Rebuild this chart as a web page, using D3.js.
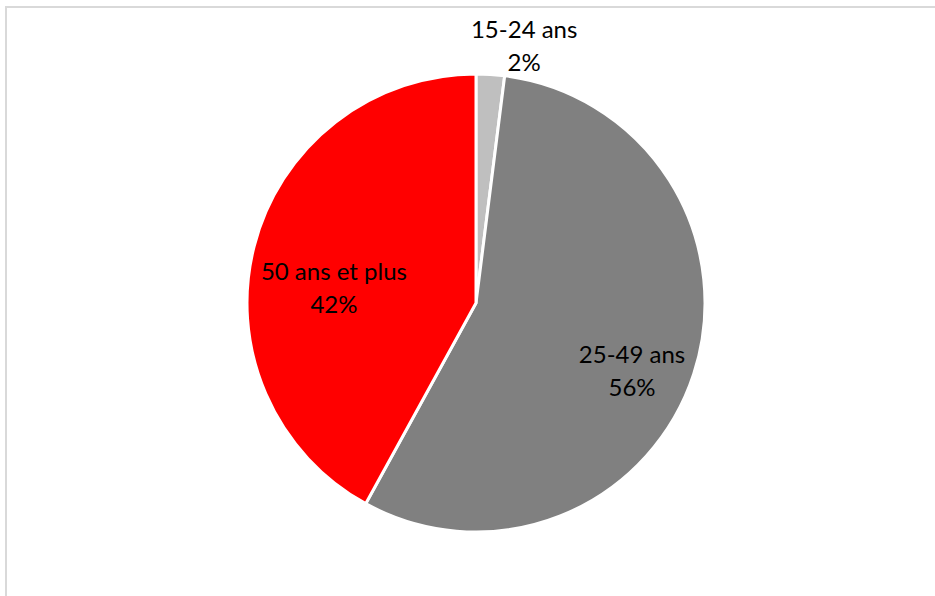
<!DOCTYPE html>
<html>
<head>
<meta charset="utf-8">
<script src="https://cdn.jsdelivr.net/npm/d3@7/dist/d3.min.js"></script>
<style>
  html, body { margin: 0; padding: 0; background: #fff; }
  svg { display: block; }
</style>
</head>
<body>
<svg id="chart" width="935" height="596"></svg>
<script>
// Age groups and their shares (percent)
const categories = ["15-24 ans", "25-49 ans", "50 ans et plus"];
const shares = [2, 56, 42];
const colors = ["#bfbfbf", "#808080", "#ff0000"];

// Label anchor for each slice: polar angle (degrees, clockwise from top) and radius fraction
const labelAngle = [10.7, 114.2, 275.2];
const labelRadius = [1.133, 0.747, 0.623];

const W = 935, H = 596;
const cx = 476, cy = 303, R = 229;

const svg = d3.select("#chart");

// Chart area frame
svg.append("rect")
  .attr("x", 6).attr("y", 7)
  .attr("width", W + 20).attr("height", H + 20)
  .attr("fill", "#fff")
  .attr("stroke", "#d9d9d9")
  .attr("stroke-width", 2);

const data = categories.map((c, i) => ({ label: c, value: shares[i], color: colors[i], i }));

const pie = d3.pie().value(d => d.value).sort(null);
const arc = d3.arc().innerRadius(0).outerRadius(R);

const g = svg.append("g").attr("transform", `translate(${cx},${cy})`);

g.selectAll("path.slice")
  .data(pie(data))
  .join("path")
  .attr("class", "slice")
  .attr("d", arc)
  .attr("fill", d => d.data.color)
  .attr("stroke", "#fff")
  .attr("stroke-width", 3)
  .attr("stroke-linejoin", "round");

const fmt = v => `${v}%`;

const labels = g.selectAll("text.lbl")
  .data(pie(data))
  .join("text")
  .attr("class", "lbl")
  .attr("text-anchor", "middle")
  .attr("font-family", "Lato, 'Liberation Sans', sans-serif")
  .attr("font-size", 24)
  .attr("fill", "#000")
  .attr("transform", d => {
    const a = labelAngle[d.data.i] * Math.PI / 180;
    const r = labelRadius[d.data.i] * R;
    return `translate(${r * Math.sin(a)},${-r * Math.cos(a)})`;
  });

labels.append("tspan")
  .attr("x", 0).attr("dy", -10)
  .text(d => d.data.label);
labels.append("tspan")
  .attr("x", 0).attr("dy", 33)
  .text(d => fmt(d.data.value));
</script>
</body>
</html>
